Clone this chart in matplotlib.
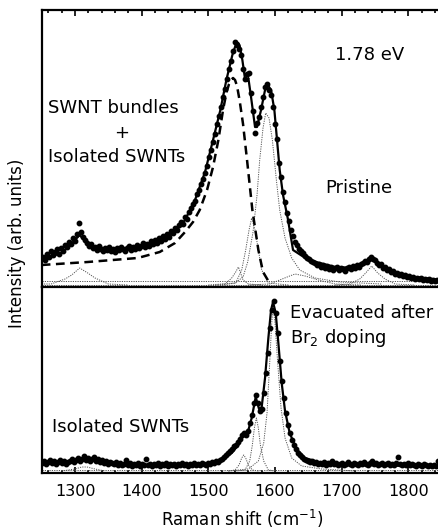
import matplotlib
matplotlib.use('Agg')
import matplotlib.pyplot as plt
from matplotlib.ticker import MultipleLocator

plt.rcParams['font.family'] = ['DejaVu Sans']

# ---- top panel: pristine, 1.78 eV ----
top_dot_x = [1252, 1255, 1258, 1261, 1264, 1267, 1270, 1273, 1276, 1279, 1282, 1285, 1288, 1291, 1294, 1297, 1300,
             1303, 1306, 1309, 1312, 1315, 1318, 1321, 1324, 1327, 1330, 1333, 1336, 1339, 1342, 1345, 1348, 1351,
             1354, 1357, 1360, 1363, 1366, 1369, 1372, 1375, 1378, 1381, 1384, 1387, 1390, 1393, 1396, 1399, 1402,
             1405, 1408, 1411, 1414, 1417, 1420, 1423, 1426, 1429, 1432, 1435, 1438, 1441, 1444, 1447, 1450, 1453,
             1456, 1459, 1462, 1465, 1468, 1471, 1474, 1477, 1480, 1483, 1486, 1489, 1492, 1495, 1498, 1501, 1504,
             1507, 1510, 1513, 1516, 1519, 1522, 1525, 1528, 1531, 1534, 1537, 1540, 1543, 1546, 1549, 1552, 1555,
             1558, 1561, 1564, 1567, 1570, 1573, 1576, 1579, 1582, 1585, 1588, 1591, 1594, 1597, 1600, 1603, 1606,
             1609, 1612, 1615, 1618, 1621, 1624, 1627, 1630, 1633, 1636, 1639, 1642, 1645, 1648, 1651, 1654, 1657,
             1660, 1663, 1666, 1669, 1672, 1675, 1678, 1681, 1684, 1687, 1690, 1693, 1696, 1699, 1702, 1705, 1708,
             1711, 1714, 1717, 1720, 1723, 1726, 1729, 1732, 1735, 1738, 1741, 1744, 1747, 1750, 1753, 1756, 1759,
             1762, 1765, 1768, 1771, 1774, 1777, 1780, 1783, 1786, 1789, 1792, 1795, 1798, 1801, 1804, 1807, 1810,
             1813, 1816, 1819, 1822, 1825, 1828, 1831, 1834, 1837, 1840, 1843, 1846, 1849]
top_dot_y = [30, 27, 33, 30, 36, 32, 35, 38, 33, 39, 36, 42, 40, 45, 43, 49, 46,
             53, 64, 55, 50, 47, 44, 41, 43, 39, 40, 37, 41, 38, 36, 39, 37, 40,
             36, 38, 35, 39, 37, 40, 38, 36, 39, 41, 37, 40, 38, 42, 39, 41, 44,
             40, 43, 41, 46, 43, 47, 44, 49, 46, 51, 48, 53, 50, 56, 54, 59, 57,
             62, 65, 63, 70, 68, 75, 79, 83, 86, 93, 97, 103, 108, 114, 121, 130, 137,
             145, 153, 163, 171, 180, 190, 198, 208, 218, 226, 236, 245, 242, 238, 232, 218, 208,
             213, 214, 194, 176, 154, 164, 170, 180, 190, 200, 203, 197, 192, 180, 163, 148, 124,
             110, 95, 85, 74, 66, 57, 51, 45, 42, 38, 36, 34, 31, 29, 28, 26, 25,
             24, 22, 23, 20, 22, 19, 21, 18, 20, 17, 19, 20, 17, 19, 18, 16, 19,
             20, 18, 21, 19, 22, 20, 23, 24, 26, 25, 28, 30, 28, 27, 24, 22, 23,
             19, 20, 17, 18, 15, 16, 13, 14, 12, 13, 11, 12, 10, 11, 9, 10, 8,
             9, 8, 9, 7, 8, 7, 8, 6, 7, 6, 7, 6, 6]

top_fit_x = [1250, 1277, 1290, 1307, 1320, 1330, 1352, 1382, 1412, 1435, 1450, 1465, 1480, 1495, 1507, 1518,
             1527, 1536, 1540, 1542, 1545, 1547, 1551, 1555, 1558, 1560, 1564, 1570, 1573, 1579, 1585, 1588,
             1590, 1594, 1599, 1603, 1607, 1612, 1619, 1627, 1650, 1690, 1720, 1745, 1770, 1810, 1850]
top_fit_y = [29, 33, 40, 52, 42, 40, 38, 38, 41, 48, 55, 67, 87, 115, 147, 177,
             207, 232, 240, 243, 244, 241, 227, 208, 206, 209, 190, 160, 160, 177, 197, 201,
             201, 197, 177, 147, 117, 92, 69, 37, 27, 20, 19, 28, 17, 10, 7]

bwf_x = [1250, 1319, 1394, 1427, 1450, 1465, 1477, 1487, 1498, 1507, 1515, 1522, 1527, 1531, 1534, 1537,
         1540, 1543, 1547, 1552, 1558, 1566, 1575, 1582, 1590]
bwf_y = [22, 25, 29, 35, 44, 55, 65, 77, 97, 120, 147, 177, 194, 203, 207, 209,
         207, 201, 186, 163, 127, 77, 37, 15, 6]

# Lorentzian components (dotted)
top_comp = [
    ([1250, 1264, 1285, 1295, 1307, 1319, 1330, 1350, 1380], [3, 3, 8, 12, 19, 14, 9, 3, 2]),
    ([1510, 1525, 1535, 1541, 1545, 1548, 1552, 1560, 1580], [2, 3, 9, 15, 20, 15, 7, 3, 2]),
    ([1520, 1541, 1550, 1556, 1561, 1565, 1570, 1575, 1580, 1590, 1620], [2, 4, 17, 37, 57, 69, 57, 37, 17, 4, 2]),
    ([1500, 1540, 1552, 1559, 1567, 1573, 1577, 1582, 1586, 1591, 1596, 1602, 1607, 1615, 1625, 1637, 1660, 1697, 1760],
     [2, 4, 10, 25, 55, 92, 127, 159, 174, 169, 147, 107, 77, 49, 29, 17, 9, 5, 3]),
    ([1560, 1592, 1607, 1622, 1630, 1645, 1665, 1690, 1730], [2, 3, 7, 11, 13, 11, 7, 3, 2]),
    ([1690, 1712, 1727, 1736, 1745, 1754, 1765, 1780, 1810], [2, 3, 8, 14, 21, 14, 8, 3, 2]),
]
top_base_x = [1250, 1850]
top_base_y = [6, 6]

# ---- bottom panel: evacuated after Br2 doping ----
bot_dot_x = [1250, 1253, 1256, 1259, 1262, 1265, 1268, 1271, 1274, 1277, 1280, 1283, 1286, 1289, 1292, 1295,
             1298, 1301, 1304, 1307, 1310, 1313, 1316, 1319, 1322, 1325, 1328, 1331, 1334, 1337, 1340, 1343,
             1346, 1349, 1352, 1355, 1358, 1361, 1364, 1367, 1370, 1373, 1376, 1379, 1382, 1385, 1388, 1391,
             1394, 1397, 1400, 1403, 1406, 1409, 1412, 1415, 1418, 1421, 1424, 1427, 1430, 1433, 1436, 1439,
             1442, 1445, 1448, 1451, 1454, 1457, 1460, 1463, 1466, 1469, 1472, 1475, 1478, 1481, 1484, 1487,
             1490, 1493, 1496, 1499, 1502, 1505, 1508, 1511, 1514, 1517, 1520, 1523, 1526, 1529, 1532, 1535,
             1538, 1541, 1544, 1547, 1550, 1553, 1556, 1559, 1562, 1565, 1568, 1571, 1574, 1577, 1580, 1583,
             1586, 1589, 1592, 1595, 1598, 1601, 1604, 1607, 1610, 1613, 1616, 1619, 1622, 1625, 1628, 1631,
             1634, 1637, 1640, 1643, 1646, 1649, 1652, 1655, 1658, 1661, 1664, 1667, 1670, 1673, 1676, 1679,
             1682, 1685, 1688, 1691, 1694, 1697, 1700, 1703, 1706, 1709, 1712, 1715, 1718, 1721, 1724, 1727,
             1730, 1733, 1736, 1739, 1742, 1745, 1748, 1751, 1754, 1757, 1760, 1763, 1766, 1769, 1772, 1775,
             1778, 1781, 1784, 1787, 1790, 1793, 1796, 1799, 1802, 1805, 1808, 1811, 1814, 1817, 1820, 1823,
             1826, 1829, 1832, 1835, 1838, 1841, 1844, 1847]
bot_dot_y = [10, 12, 9, 11, 13, 10, 12, 9, 11, 13, 10, 12, 9, 11, 12, 14,
             11, 13, 15, 12, 14, 17, 13, 15, 12, 14, 16, 12, 14, 11, 13, 10,
             12, 9, 11, 10, 9, 11, 8, 10, 8, 9, 13, 8, 10, 7, 9, 8,
             10, 7, 9, 8, 14, 8, 9, 7, 9, 8, 10, 7, 9, 8, 10, 7,
             9, 8, 9, 7, 9, 8, 10, 8, 9, 7, 9, 8, 10, 8, 9, 8,
             10, 9, 8, 10, 9, 11, 10, 12, 11, 13, 14, 16, 18, 20, 22, 24,
             27, 28, 31, 34, 38, 40, 38, 42, 50, 58, 70, 78, 70, 62, 64, 80,
             100, 120, 145, 163, 172, 160, 140, 112, 92, 75, 60, 48, 40, 33, 28, 24,
             20, 18, 16, 14, 13, 12, 11, 12, 10, 11, 9, 10, 9, 11, 8, 10,
             9, 12, 9, 10, 8, 9, 10, 8, 9, 11, 9, 8, 10, 9, 8, 10,
             9, 11, 9, 8, 10, 12, 9, 10, 8, 9, 10, 8, 9, 10, 8, 9,
             8, 10, 16, 9, 8, 9, 8, 10, 8, 9, 8, 7, 9, 8, 7, 9,
             8, 7, 8, 7, 8, 7, 12, 8]

bot_fit_x = [1250, 1280, 1310, 1330, 1360, 1400, 1450, 1500, 1520, 1535, 1545, 1552, 1558, 1565, 1571, 1576,
             1580, 1585, 1590, 1594, 1597, 1601, 1605, 1610, 1615, 1622, 1632, 1645, 1670, 1720, 1800, 1850]
bot_fit_y = [10, 11, 13, 12, 9, 8, 8, 9, 13, 20, 28, 37, 38, 55, 76, 64,
             66, 95, 135, 163, 171, 160, 130, 90, 62, 40, 24, 15, 10, 8, 7, 7]

bot_comp = [
    ([1280, 1300, 1310, 1318, 1330, 1345], [2, 4, 6, 6, 4, 2]),
    ([1530, 1540, 1546, 1550, 1553, 1556, 1560, 1566, 1575], [2, 3, 8, 15, 18, 15, 8, 3, 2]),
    ([1540, 1555, 1562, 1566, 1569, 1572, 1575, 1578, 1583, 1590, 1600], [2, 3, 12, 28, 45, 55, 45, 28, 12, 3, 2]),
    ([1530, 1560, 1575, 1583, 1588, 1592, 1595, 1597, 1600, 1604, 1609, 1615, 1625, 1640, 1670, 1720],
     [2, 4, 12, 30, 60, 110, 150, 165, 150, 110, 65, 35, 15, 7, 4, 2]),
]
bot_base_x = [1250, 1850]
bot_base_y = [3, 3]

xticks = [1300, 1400, 1500, 1600, 1700, 1800]

W, H = 438, 528
fig = plt.figure(figsize=(W / 100, H / 100), dpi=100)
left = 41.7 / W
right = 441.7 / W
ax1 = fig.add_axes([left, 1 - 287 / H, right - left, 277 / H])
ax2 = fig.add_axes([left, 1 - 473 / H, right - left, 186 / H])

dot_kw = dict(ls='none', marker='o', ms=3.2, color='black', mec='black')
dotted_kw = dict(color='#555555', ls=(0, (1.2, 1.2)), lw=0.7)

for xs, ys in top_comp:
    ax1.plot(xs, ys, **dotted_kw)
ax1.plot(top_base_x, top_base_y, **dotted_kw)
ax1.plot(top_base_x, [2, 2], **dotted_kw)
ax1.plot(bwf_x, bwf_y, color='black', lw=1.8, ls=(0, (3.5, 2.2)))
ax1.plot(top_dot_x, top_dot_y, **dot_kw)
ax1.plot(top_fit_x, top_fit_y, color='black', lw=1.6)

for xs, ys in bot_comp:
    ax2.plot(xs, ys, **dotted_kw)
ax2.plot(bot_base_x, bot_base_y, **dotted_kw)
ax2.plot(bot_dot_x, bot_dot_y, **dot_kw)
ax2.plot(bot_fit_x, bot_fit_y, color='black', lw=1.6)

ax1.set_xlim(1250, 1850)
ax2.set_xlim(1250, 1850)
ax1.set_ylim(0, 277)
ax2.set_ylim(0, 186)

for ax in (ax1, ax2):
    ax.set_yticks([])
    for s in ax.spines.values():
        s.set_linewidth(1.6)
    ax.xaxis.set_major_locator(MultipleLocator(100))
    ax.xaxis.set_minor_locator(MultipleLocator(20))

ax1.tick_params(axis='x', which='both', direction='in', top=True, bottom=False,
                labeltop=False, labelbottom=False, width=1.2)
ax1.tick_params(axis='x', which='major', length=4.5)
ax1.tick_params(axis='x', which='minor', length=2.5)
ax2.tick_params(axis='x', which='both', direction='in', top=False, bottom=True, width=1.2)
ax2.tick_params(axis='x', which='major', length=4.5, pad=8, labelsize=11.5)
ax2.tick_params(axis='x', which='minor', length=2.5)
ax2.set_xticks(xticks)
ax2.set_xticklabels([str(t) for t in xticks])
ax2.set_xlabel('Raman shift (cm$^{-1}$)', fontsize=12, labelpad=6)

fig.text(17 / W, 1 - 243 / H, 'Intensity (arb. units)', rotation=90,
         ha='center', va='center', fontsize=12)

fs = 13
ax1.text(1690, 232, '1.78 eV', fontsize=fs, va='center')
ax1.text(1259, 179, 'SWNT bundles', fontsize=fs, va='center')
ax1.text(1370, 154, '+', fontsize=fs, va='center', ha='center')
ax1.text(1259, 130, 'Isolated SWNTs', fontsize=fs, va='center')
ax1.text(1676, 99, 'Pristine', fontsize=fs, va='center')
ax2.text(1622, 160, 'Evacuated after', fontsize=fs, va='center')
ax2.text(1622, 135, 'Br$_{2}$ doping', fontsize=fs, va='center')
ax2.text(1265, 46, 'Isolated SWNTs', fontsize=fs, va='center')

fig.savefig('out.png', dpi=100)
